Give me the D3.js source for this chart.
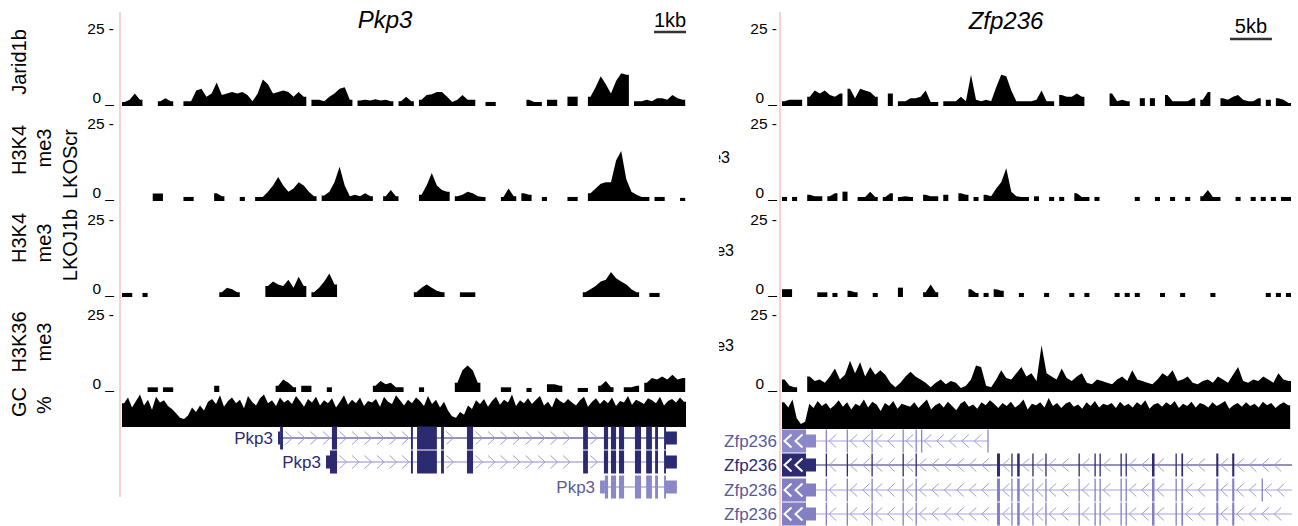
<!DOCTYPE html>
<html>
<head>
<meta charset="utf-8">
<script src="https://cdn.jsdelivr.net/npm/d3@7"></script>
<style>
  body { margin: 0; background: #fff; }
  svg text { font-family: Arial, "Liberation Sans", sans-serif; }
</style>
</head>
<body>
<svg id="chart" width="1298" height="526"></svg>
<script>
// ---- signal tracks, Pkp3 locus (bins of 0.16 kb) ----
const pkp3Jarid1b = [
  1.3, 2, 4, 2, 0, 0, 0, 1.5, 2.5, 1.5,
  0, 0, 1.5, 1.5, 5, 5.5, 3, 4, 7.5, 3.5,
  4, 4.5, 4, 4.5, 3.5, 1.5, 4, 8.5, 7, 4,
  4.5, 5, 4.5, 3, 4.5, 3, 0, 2, 2, 1.5,
  3, 4, 5.5, 6, 2, 0, 1.8, 2, 1.8, 2.2,
  1.8, 2, 1.5, 0, 1.5, 3, 1.5, 0, 2, 3.5,
  3.8, 4.5, 4.5, 3, 1.3, 2, 3.5, 2, 2, 0,
  0, 1.3, 1.3, 0, 0, 0, 0, 0, 0, 2,
  1.3, 1.3, 0, 2, 2, 0, 0, 3, 3, 0,
  0, 3, 6, 9.5, 7, 4, 8, 10.5, 10, 0,
  1.5, 1.5, 2, 1.5, 2.5, 2.5, 2, 3.5, 2.5, 2
];
const pkp3LKOScr = [
  0, 0, 0, 0, 0, 0, 2.4, 2.4, 0, 0,
  0, 0, 1.3, 1.3, 0, 0, 0, 0, 2.5, 1.5,
  0, 0, 0, 1.3, 0, 0, 1.3, 1.3, 3, 5,
  7.7, 5, 3, 4, 6, 5, 3, 1.5, 0, 1.8,
  3, 6, 11, 5, 1.5, 2, 1.5, 2.5, 1.5, 0,
  0, 1.5, 3.5, 1.5, 0, 0, 0, 0, 2, 5,
  9, 5, 3.5, 3, 0, 1.5, 2, 3, 2.5, 1.5,
  1.3, 0, 0, 0, 1.3, 4, 1.5, 0, 2.5, 2,
  0, 0, 1.3, 0, 0, 0, 0, 1.3, 1.3, 0,
  0, 2.5, 4, 5.5, 6, 6, 13, 16, 7, 3,
  2, 1.3, 1.3, 0, 1.3, 1.3, 0, 0, 0, 1
];
const pkp3LKOJ1b = [
  1.3, 1.3, 0, 0, 1.3, 0, 0, 0, 0, 0,
  0, 0, 0, 0, 0, 0, 0, 0, 0, 1.5,
  3, 2.5, 1.5, 0, 0, 0, 0, 0, 3.5, 5,
  4, 3.5, 5.5, 3, 6.5, 3.5, 0, 1.5, 3, 5,
  7.5, 4, 0, 0, 0, 0, 0, 0, 0, 0,
  0, 0, 0, 0, 0, 0, 0, 1.5, 3, 4,
  3, 2, 1.5, 0, 0, 0, 1.5, 1.5, 1.5, 0,
  0, 0, 0, 0, 0, 0, 0, 0, 0, 0,
  0, 0, 0, 0, 0, 0, 0, 0, 0, 0,
  1.5, 2.5, 3.5, 5, 5.5, 8, 6, 5, 4, 2.5,
  1.5, 0, 0, 1.3, 1.3, 0, 0, 0, 0, 0
];
const pkp3H3K36 = [
  0, 0, 0, 0, 0, 1.5, 1.5, 0, 1.5, 1.5,
  0, 0, 0, 0, 0, 0, 0, 0, 2, 0,
  0, 0, 0, 0, 0, 0, 0, 0, 0, 0,
  2, 4, 3, 1.5, 0, 2, 2, 0, 0, 0,
  1.5, 0, 0, 0, 0, 0, 0, 0, 0, 2,
  3.5, 2.5, 3, 1.5, 1.5, 0, 0, 0, 1.5, 0,
  0, 0, 0, 0, 0, 3, 7, 8.5, 7, 3,
  0, 0, 0, 0, 1.5, 1.5, 0, 0, 0, 1.3,
  0, 0, 0, 2.5, 2.5, 2, 0, 0, 0, 1.3,
  1.3, 0, 0, 2, 3.5, 1.5, 0, 0, 1.5, 1.5,
  2, 0, 3, 4.5, 4, 5, 4, 5.5, 4, 4.5
];
// GC percent, bins of 0.125 kb
const pkp3GC = [
  58, 66, 52, 61, 70, 55, 63, 49, 67, 59, 62, 54,
  50, 44, 38, 36, 41, 52, 46, 55, 48, 60,
  64, 57, 69, 53, 61, 66, 58, 63, 51, 68,
  60, 55, 65, 70, 58, 62, 54, 66, 59, 63,
  57, 68, 61, 53, 64, 59, 67, 55, 62, 58,
  65, 52, 60, 69, 56, 63, 58, 66, 54, 61,
  59, 64, 53, 67, 60, 57, 69, 62, 55, 63,
  58, 66, 61, 54, 68, 57, 63, 52, 60, 48,
  40, 38, 46, 42, 55, 50, 62, 57, 64, 53,
  61, 67, 56, 63, 59, 70, 54, 62, 58, 65,
  57, 63, 68, 55, 60, 52, 66, 61, 58, 64,
  59, 55, 62, 67, 53, 60, 65, 57, 63, 58,
  66, 54, 61, 59, 68, 56, 63, 60, 57, 65,
  62, 58, 67, 55, 61, 64, 59, 66, 60
];

// ---- signal tracks, Zfp236 locus (bins of 0.6 kb) ----
const zfpJarid1b = [
  1.5, 2, 2, 2, 0, 3, 5, 4, 5, 3.5,
  3, 4, 0, 5.5, 2.5, 5.5, 5, 4.5, 3, 0,
  0, 4, 0, 1.5, 1.5, 2.5, 2.5, 3, 5, 1.3,
  1.3, 0, 1.5, 1.5, 1.5, 3, 1.5, 10, 2, 1.5,
  2, 1.5, 6, 10, 9.5, 5, 1.5, 1.5, 1.5, 1.5,
  2, 5, 1.5, 1.5, 0, 3.5, 3, 3, 4, 3,
  0, 0, 0, 0, 0, 4, 1.5, 2, 1.5, 0,
  0, 2.5, 0, 2.5, 0, 0, 3.5, 1.5, 1.5, 1.5,
  1.5, 2.5, 0, 2, 4.5, 0, 0, 2.5, 2, 3,
  3.5, 2, 1.5, 1.5, 2.5, 0, 2, 0, 2.5, 2,
  1
];
const zfpLKOScr = [
  1.3, 0, 1.3, 0, 0, 2, 1.5, 1.5, 0, 1.5,
  2.5, 0, 3, 0, 0, 1.3, 1.3, 3, 1.3, 0,
  1.3, 2.5, 0, 1.3, 1.5, 1.3, 0, 0, 2, 1.5,
  1.5, 0, 2, 0, 0, 2.5, 2, 0, 1.3, 0,
  2, 1.5, 4, 6, 10.5, 3, 1.5, 1.3, 1.3, 0,
  1.5, 0, 0, 1.3, 0, 1.3, 0, 0, 2.5, 1.3,
  1.3, 0, 1.3, 0, 0, 0, 0, 0, 0, 0,
  1.3, 0, 0, 0, 1.3, 0, 0, 1.3, 0, 0,
  1.3, 0, 0, 1.5, 3.5, 1.3, 1.3, 0, 0, 0,
  1.3, 0, 0, 1.3, 0, 1.3, 0, 1.3, 0, 1.3,
  1.3
];
const zfpLKOJ1b = [
  2.5, 2.5, 0, 0, 0, 0, 0, 1.5, 1.5, 0,
  1.3, 0, 0, 2, 1.5, 0, 0, 0, 1.3, 0,
  0, 0, 0, 3, 0, 0, 0, 0, 1.5, 4,
  1.5, 0, 0, 0, 0, 0, 0, 2.5, 1.3, 0,
  1.3, 0, 2.5, 2, 0, 0, 0, 1.3, 0, 0,
  0, 0, 1.3, 0, 0, 0, 0, 1.3, 0, 0,
  1.3, 0, 0, 0, 0, 0, 1.3, 0, 1.3, 0,
  1.3, 0, 0, 0, 0, 1.3, 0, 0, 0, 1.3,
  0, 0, 0, 0, 0, 1.3, 0, 0, 0, 0,
  0, 0, 0, 0, 0, 0, 1.3, 0, 1.3, 0,
  1.3
];
const zfpH3K36 = [
  4, 2, 1.5, 0, 0, 5, 3.5, 4, 3, 5,
  7.5, 4, 5.5, 10, 6, 9.5, 5, 8, 5.5, 7,
  5.5, 3, 1.5, 3, 5, 6.5, 5, 4, 3, 1.5,
  3, 4, 2.5, 3.5, 3, 1.3, 2, 4, 8.5, 8,
  2, 1.5, 4, 7, 4.5, 4, 6, 8, 5, 6,
  3.5, 15, 6, 5, 4, 7.5, 4.5, 3.5, 5, 6,
  3, 2.5, 4, 3.5, 3, 2.5, 4, 5, 3.5, 7,
  4, 3.5, 3, 2.5, 4, 6, 5, 7, 3.5, 4,
  5, 3, 2.5, 3.5, 4, 3, 5, 4, 3, 5.5,
  8, 3.5, 3, 4, 3.5, 5, 4, 3, 6, 4,
  3.5
];
// GC percent, bins of 0.5 kb
const zfpGC = [
  62, 55, 66, 40, 32, 35, 60, 54, 64, 57,
  61, 53, 58, 65, 56, 62, 52, 60, 57, 66,
  55, 63, 59, 50, 61, 57, 64, 53, 60, 58,
  56, 62, 54, 60, 66, 52, 58, 61, 55, 63,
  57, 51, 60, 64, 56, 59, 53, 62, 58, 65,
  60, 54, 61, 57, 63, 55, 59, 66, 52, 60,
  58, 62, 55, 68, 57, 61, 54, 60, 63, 56,
  59, 53, 62, 57, 64, 55, 60, 58, 61, 54,
  63, 57, 60, 55, 62, 58, 65, 53, 59, 61,
  56, 62, 58, 64, 54, 60, 57, 63, 55, 61,
  59, 55, 62, 57, 60, 64, 53, 58, 61, 56,
  62, 57, 60, 55, 63, 58, 61, 54, 59, 62,
  58
];

// ---- gene models: [startKb, endKb, kind] kind 0 = UTR, 1 = coding, 2 = coding with strand arrows ----
const pkp3TxA = [[4.875, 4.94, 0], [4.94, 5.03, 1], [6.56, 6.72, 1], [9.03, 9.09, 1], [9.22, 9.84, 1],
  [9.97, 10.06, 1], [10.78, 10.97, 1], [14.41, 14.56, 1], [15.06, 15.19, 1], [15.28, 15.44, 1],
  [15.53, 15.69, 1], [16.03, 16.22, 1], [16.38, 16.56, 1], [16.66, 16.75, 1], [16.94, 17.0, 1], [17.0, 17.34, 0]];
const pkp3TxB = [[6.375, 6.5, 0], [6.5, 6.72, 1], [9.03, 9.09, 1], [9.22, 9.84, 1],
  [9.97, 10.06, 1], [10.78, 10.97, 1], [14.41, 14.56, 1], [15.06, 15.19, 1], [15.28, 15.44, 1],
  [15.53, 15.69, 1], [16.03, 16.22, 1], [16.38, 16.56, 1], [16.66, 16.75, 1], [16.94, 17.0, 1], [17.0, 17.34, 0]];
const pkp3TxC = [[14.94, 15.09, 0], [15.09, 15.19, 1], [15.28, 15.44, 1],
  [15.53, 15.69, 1], [16.03, 16.22, 1], [16.38, 16.56, 1], [16.66, 16.75, 1], [16.94, 17.0, 1], [17.0, 17.34, 0]];

const zfpTxShort = [[0, 2.86, 2], [2.86, 4.05, 0], [5.2, 5.32, 1], [7.7, 7.82, 1], [10.65, 10.8, 1],
  [14.35, 14.47, 1], [15.9, 16.0, 1], [16.55, 16.65, 1], [24.45, 24.55, 1]];
const zfpTxLong = [[0, 2.86, 2], [2.86, 4.05, 0], [5.2, 5.32, 1], [7.7, 7.82, 1], [10.65, 10.8, 1],
  [14.35, 14.47, 1], [15.9, 16.05, 1], [25.6, 25.95, 1], [27.3, 27.45, 1], [28.0, 28.3, 1],
  [29.8, 29.95, 1], [31.35, 31.5, 1], [35.3, 35.45, 1], [37.2, 37.35, 1], [37.8, 37.95, 1],
  [40.3, 40.45, 1], [40.9, 41.05, 1], [44.05, 44.35, 1], [46.85, 47.0, 1], [47.55, 47.75, 1],
  [51.7, 51.95, 1], [53.6, 53.85, 1], [66.0, 66.2, 1]];
const zfpTxLongB = zfpTxLong.concat([[57.1, 57.2, 1]]);

// ---- labels ----
const trackLabelLines = [
  [["Jarid1b", 62]],
  [["H3K4", 150], ["me3", 148], ["LKOScr", 164]],
  [["H3K4", 238], ["me3", 243], ["LKOJ1b", 245]],
  [["H3K36", 342], ["me3", 342]],
  [["GC", 402], ["%", 405]]
];
const tickValues = [0, 25];

const NAVY = "#2c2b72", LIGHT = "#8a88c8", LINE_LIGHT = "#a6a4dc", CHEV = "#9d9bd6", MUTED = "#5c5a9c";
const BASES = [106, 201, 297, 392];
const TRACK_H = 78;

const svg = d3.select("#chart");
svg.append("rect").attr("width", 1298).attr("height", 526).attr("fill", "#fff");

const panels = [
  {
    x0: 122, x1: 686, kb: 17.625, tickX: 114, lineX: 120, lineY1: 497,
    title: "Pkp3", titleX: 385, titleY: 28,
    barKb: 1, barEndKb: 17.625, barText: "1kb", barTextY: 27, barY: 32,
    binKb: 0.16, gcBinKb: 0.125, gcBase: 427,
    signals: [pkp3Jarid1b, pkp3LKOScr, pkp3LKOJ1b, pkp3H3K36], gc: pkp3GC, strand: 1,
    rows: [
      {tx: pkp3TxA, label: "Pkp3", y: 438, exon: NAVY, line: NAVY, text: NAVY},
      {tx: pkp3TxB, label: "Pkp3", y: 462, exon: NAVY, line: "#8d8bc9", text: NAVY},
      {tx: pkp3TxC, label: "Pkp3", y: 487, exon: LIGHT, line: LIGHT, text: MUTED}
    ]
  },
  {
    x0: 782, x1: 1290, kb: 60.48, tickX: 777, lineX: 780, lineY1: 526,
    title: "Zfp236", titleX: 1006, titleY: 29,
    barKb: 5, barEndKb: 58.33, barText: "5kb", barTextY: 33, barY: 39,
    binKb: 0.6, gcBinKb: 0.5, gcBase: 429,
    signals: [zfpJarid1b, zfpLKOScr, zfpLKOJ1b, zfpH3K36], gc: zfpGC, strand: -1,
    rows: [
      {tx: zfpTxShort, label: "Zfp236", y: 441, exon: LIGHT, line: LINE_LIGHT, text: MUTED},
      {tx: zfpTxLong, label: "Zfp236", y: 465, exon: NAVY, line: NAVY, text: NAVY},
      {tx: zfpTxLongB, label: "Zfp236", y: 490, exon: "#8280c3", line: LINE_LIGHT, text: MUTED},
      {tx: zfpTxLong, label: "Zfp236", y: 514, exon: "#8280c3", line: LINE_LIGHT, text: MUTED}
    ]
  }
];

// wiggle track: each run of non-empty bins is joined through the bin centres
function drawSignal(g, values, binKb, x, y, base, continuous) {
  const runs = [];
  let cur = null;
  values.forEach((v, i) => {
    if (continuous || v > 0) {
      if (!cur) { cur = {i0: i, pts: []}; runs.push(cur); }
      cur.pts.push(v);
      cur.i1 = i;
    } else cur = null;
  });
  const area = d3.area().x(d => d[0]).y0(base).y1(d => y(d[1]));
  runs.forEach(r => {
    const pts = [[x(r.i0 * binKb), r.pts[0]]];
    r.pts.forEach((v, k) => pts.push([x((r.i0 + k + 0.5) * binKb), v]));
    pts.push([x((r.i1 + 1) * binKb), r.pts[r.pts.length - 1]]);
    g.append("path").attr("d", area(pts)).attr("fill", "#000");
  });
}

function chevron(g, cx, cy, dir, color, width) {
  const w = 3.5, h = 6.5;
  g.append("path")
    .attr("d", "M" + (cx - dir * w) + "," + (cy - h) + " L" + (cx + dir * w) + "," + cy + " L" + (cx - dir * w) + "," + (cy + h))
    .attr("fill", "none").attr("stroke", color).attr("stroke-width", width);
}

function drawTranscript(g, p, x, row) {
  const ex = row.tx.slice().sort((a, b) => a[0] - b[0]);
  const start = ex[0][0], end = ex[ex.length - 1][1];
  const lx0 = Math.max(x(start), p.x0), lx1 = Math.min(x(end), p.x1 + 2);
  g.append("line").attr("x1", lx0).attr("x2", lx1).attr("y1", row.y).attr("y2", row.y)
    .attr("stroke", row.line).attr("stroke-width", 1.2);
  // strand arrows in introns
  for (let i = 0; i < ex.length - 1; i++) {
    const a = Math.max(x(ex[i][1]), p.x0), b = Math.min(x(ex[i + 1][0]), p.x1);
    if (b - a < 11) continue;
    for (let cx = a + 6; cx <= b - 5; cx += 12.5) chevron(g, cx, row.y, p.strand, CHEV, 1);
  }
  ex.forEach(e => {
    const h = e[2] ? 23 : 13;
    const xa = x(e[0]), xb = x(e[1]);
    g.append("rect").attr("x", xa).attr("y", row.y - h / 2)
      .attr("width", Math.max(1.3, xb - xa)).attr("height", h).attr("fill", row.exon);
    if (e[2] === 2) {
      for (let cx = xa + 6; cx <= xb - 3; cx += 11) chevron(g, cx, row.y, p.strand, "#fff", 2);
    }
  });
  g.append("text").attr("x", Math.max(x(start), p.x0) - 5).attr("y", row.y + 6)
    .attr("text-anchor", "end").attr("font-size", 17).attr("fill", row.text).text(row.label);
}

panels.forEach((p, pi) => {
  const x = d3.scaleLinear([0, p.kb], [p.x0, p.x1]);

  // pink guide line
  svg.append("line").attr("x1", p.lineX).attr("x2", p.lineX).attr("y1", 12).attr("y2", p.lineY1)
    .attr("stroke", "#f8c2c2").attr("stroke-width", 1.5);

  // title and scale bar
  svg.append("text").attr("x", p.titleX).attr("y", p.titleY).attr("text-anchor", "middle")
    .attr("font-size", 24).attr("font-style", "italic").text(p.title);
  const bx1 = x(p.barEndKb), bx0 = x(p.barEndKb - p.barKb);
  svg.append("line").attr("x1", bx0).attr("x2", bx1).attr("y1", p.barY).attr("y2", p.barY)
    .attr("stroke", "#333").attr("stroke-width", 2.5);
  svg.append("text").attr("x", (bx0 + bx1) / 2).attr("y", p.barTextY).attr("text-anchor", "middle")
    .attr("font-size", 20).text(p.barText);

  // histone tracks
  p.signals.forEach((vals, ti) => {
    const base = BASES[ti];
    const y = d3.scaleLinear([0, 25], [base, base - TRACK_H]);
    drawSignal(svg.append("g"), vals, p.binKb, x, y, base, false);
    const axis = d3.axisLeft(y).tickValues(tickValues).tickSize(0).tickPadding(0)
      .tickFormat(d => d ? d + " -" : d + " _");
    const ga = svg.append("g").attr("transform", "translate(" + p.tickX + ",0)").call(axis);
    ga.select(".domain").remove();
    ga.selectAll("text")
      .attr("fill", "#000")
      .style("font-size", "15.5px")
      .attr("dy", d => d ? "0.33em" : "-0.2em");
  });

  // GC track
  const gy = d3.scaleLinear([25, 75], [p.gcBase, p.gcBase - 36]).clamp(true);
  drawSignal(svg.append("g"), p.gc, p.gcBinKb, x, gy, p.gcBase, true);

  // gene models
  const clipId = "clip" + pi;
  svg.append("clipPath").attr("id", clipId).append("rect")
    .attr("x", 0).attr("y", 0).attr("width", p.x1 + 2).attr("height", 526);
  const gg = svg.append("g").attr("clip-path", "url(#" + clipId + ")");
  p.rows.forEach(r => drawTranscript(gg, p, x, r));
});

// vertical track labels on the far left
const labelX = [26, 51, 77];
trackLabelLines.forEach(lines => {
  lines.forEach((ln, i) => {
    svg.append("text")
      .attr("transform", "translate(" + labelX[i] + "," + ln[1] + ") rotate(-90)")
      .attr("text-anchor", "middle").attr("font-size", 20).text(ln[0]);
  });
});

// clipped labels bleeding in from the cropped right figure
svg.append("clipPath").attr("id", "cutLabels").append("rect")
  .attr("x", 719).attr("y", 0).attr("width", 40).attr("height", 526);
const cut = svg.append("g").attr("clip-path", "url(#cutLabels)");
[[730, 158], [734, 251], [734, 346]].forEach(d => {
  cut.append("text").attr("x", d[0]).attr("y", d[1] + 5).attr("text-anchor", "end")
    .attr("font-size", 16).text("me3");
});
</script>
</body>
</html>
